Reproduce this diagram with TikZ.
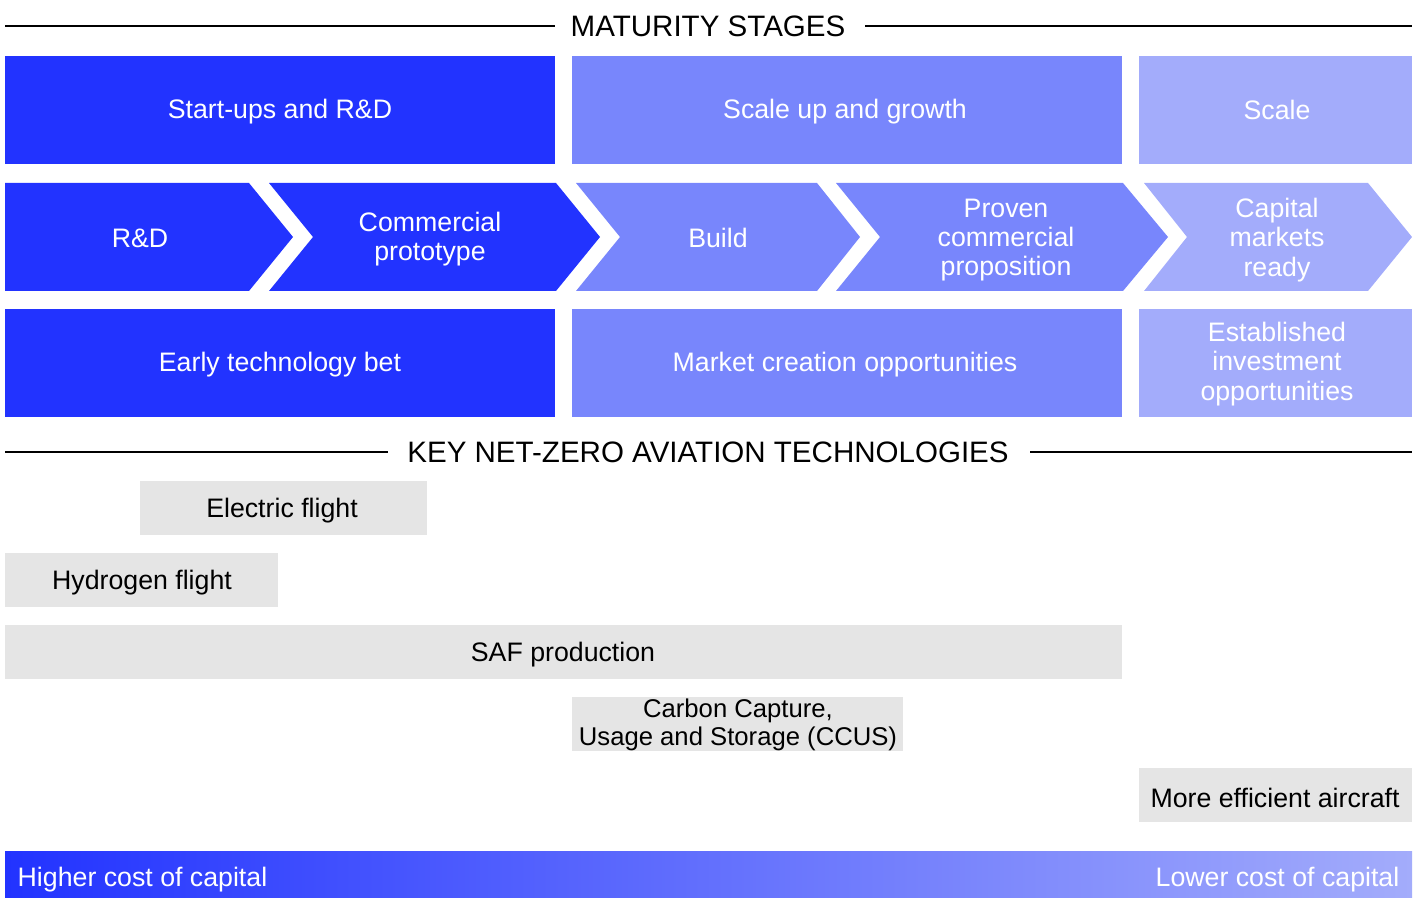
\documentclass[tikz,border=0pt]{standalone}
\usepackage{fontspec}
\setmainfont{Liberation Sans}
\usepackage{tikz}

\definecolor{darkblue}{RGB}{34,51,255}
\definecolor{midblue}{RGB}{120,134,252}
\definecolor{lightblue}{RGB}{163,172,251}
\definecolor{techgrey}{RGB}{229,229,229}

\begin{document}
\begin{tikzpicture}[x=0.01cm,y=-0.01cm]
\tikzstyle{every node}+=[inner sep=0pt]
\tikzstyle{stagetext}=[text=white,align=center,font=\fontsize{7.6}{8.3}\selectfont]
\tikzstyle{techtext}=[text=black,align=center,font=\fontsize{7.6}{7.8}\selectfont]
\tikzstyle{headtext}=[text=black,font=\fontsize{8.4}{10}\selectfont]
\useasboundingbox (0,0) rectangle (1416,898);
% maturity stages heading
\node [headtext] (maturity) at (708,26) {MATURITY STAGES};
\coordinate (mleft) at (5,26);
\coordinate (mright) at (1412,26);
\draw [black,line width=0.3pt] (mleft) -- (555,26);
\draw [black,line width=0.3pt] (865,26) -- (mright);
% top row
\fill [darkblue] (5,56) rectangle (555,164);
\node [stagetext] (startups) at (280,112) {Start-ups and R\&D};
\fill [midblue] (572,56) rectangle (1122,164);
\node [stagetext] (scaleup) at (845,112) {Scale up and growth};
\fill [lightblue] (1139,56) rectangle (1412,164);
\node [stagetext] (scale) at (1277,110) {Scale};
% chevrons
\fill [darkblue] (5,183) -- (249,183) -- (293,237) -- (249,291) -- (5,291) -- cycle;
\node [stagetext] (rd) at (140,238) {R\&D};
\fill [darkblue] (269,183) -- (556,183) -- (600,237) -- (556,291) -- (269,291) -- (313,237) -- cycle;
\node [stagetext] (proto) at (430,239) {Commercial\\prototype};
\fill [midblue] (576,183) -- (817,183) -- (860,237) -- (817,291) -- (576,291) -- (620,237) -- cycle;
\node [stagetext] (build) at (718,238) {Build};
\fill [midblue] (836,183) -- (1123,183) -- (1168,237) -- (1123,291) -- (836,291) -- (880,237) -- cycle;
\node [stagetext] (proven) at (1006,240) {Proven\\commercial\\proposition};
\fill [lightblue] (1144,183) -- (1368,183) -- (1412,237) -- (1368,291) -- (1144,291) -- (1187,237) -- cycle;
\node [stagetext] (ready) at (1277,240) {Capital\\markets\\ready};
% bottom row
\fill [darkblue] (5,309) rectangle (555,417);
\node [stagetext] (earlybet) at (280,365) {Early technology bet};
\fill [midblue] (572,309) rectangle (1122,417);
\node [stagetext] (market) at (845,365) {Market creation opportunities};
\fill [lightblue] (1139,309) rectangle (1412,417);
\node [stagetext] (established) at (1277,364) {Established\\investment\\opportunities};
% technologies heading
\node [headtext] (keytech) at (708,452) {KEY NET-ZERO AVIATION TECHNOLOGIES};
\coordinate (kleft) at (5,452);
\coordinate (kright) at (1412,452);
\draw [black,line width=0.3pt] (kleft) -- (388,452);
\draw [black,line width=0.3pt] (1030,452) -- (kright);
% technology bars
\fill [techgrey] (140,481) rectangle (427,535);
\node [techtext] (electric) at (282,511) {Electric flight};
\fill [techgrey] (5,553) rectangle (278,607);
\node [techtext] (hydrogen) at (142,583) {Hydrogen flight};
\fill [techgrey] (5,625) rectangle (1122,679);
\node [techtext] (saf) at (563,655) {SAF production};
\fill [techgrey] (572,697) rectangle (903,751);
\node [techtext,font=\fontsize{7.3}{7.8}\selectfont] (ccus) at (738,725) {Carbon Capture,\\Usage and Storage (CCUS)};
\fill [techgrey] (1139,768) rectangle (1412,822);
\node [techtext] (aircraft) at (1275,798) {More efficient aircraft};
% cost of capital
\fill [left color=darkblue,right color=lightblue] (5,851) rectangle (1412,898);
\node [stagetext,anchor=west] (higher) at (17,880) {Higher cost of capital};
\node [stagetext,anchor=east] (lower) at (1400,880) {Lower cost of capital};
\end{tikzpicture}
\end{document}
